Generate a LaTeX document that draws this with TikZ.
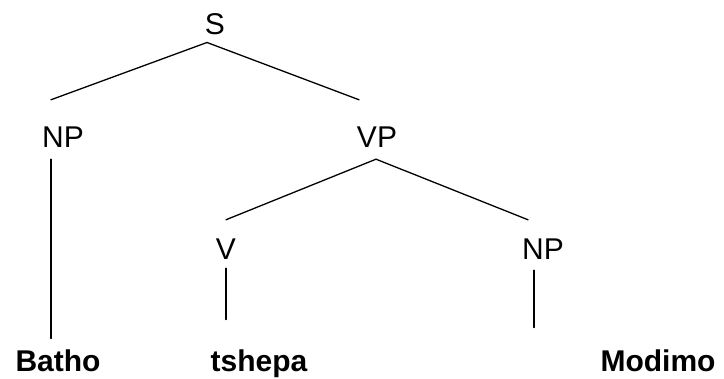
\documentclass[tikz,border=0pt]{standalone}
\usepackage{fontspec}
\setmainfont{Liberation Sans}
\usepackage{tikz}
\usetikzlibrary{positioning}
\tikzset{
  cat/.style={inner sep=0pt, anchor=base, font=\fontsize{30}{36}\selectfont},
  word/.style={cat, font=\fontsize{30}{36}\selectfont\bfseries},
  branch/.style={line width=1.3pt, line cap=round},
}

\begin{document}
\begin{tikzpicture}[x=1pt, y=-1pt]
  \useasboundingbox (0,0) rectangle (724,379);
  \node[cat] (s) at (215,35) {S};
  \node[cat] (np1) at (63,148) {NP};
  \node[cat] (vp) at (377,148) {VP};
  \node[cat] (v) at (226,260) {V};
  \node[cat] (np2) at (543,260) {NP};
  \node[word] (batho) at (58,372) {Batho};
  \node[word] (tshepa) at (259,372) {tshepa};
  \node[word] (modimo) at (658,372) {Modimo};

  \draw[branch] ([shift={(-8,7)}]s.south) -- ([shift={(-12,-27.4)}]np1.north);
  \draw[branch] ([shift={(-8,7)}]s.south) -- ([shift={(-18,-27.4)}]vp.north);
  \draw[branch] ([shift={(-12,11)}]np1.south) -- ([shift={(-7,-11.5)}]batho.north);
  \draw[branch] ([shift={(-1,11)}]vp.south) -- ([shift={(0,-19.4)}]v.north);
  \draw[branch] ([shift={(-1,11)}]vp.south) -- ([shift={(-15,-19.4)}]np2.north);
  \draw[branch] ([shift={(0,8)}]v.south) -- ([shift={(-33,-30.5)}]tshepa.north);
  \draw[branch] ([shift={(-9,10)}]np2.south) -- ([shift={(-124,-22.5)}]modimo.north);
\end{tikzpicture}
\end{document}
